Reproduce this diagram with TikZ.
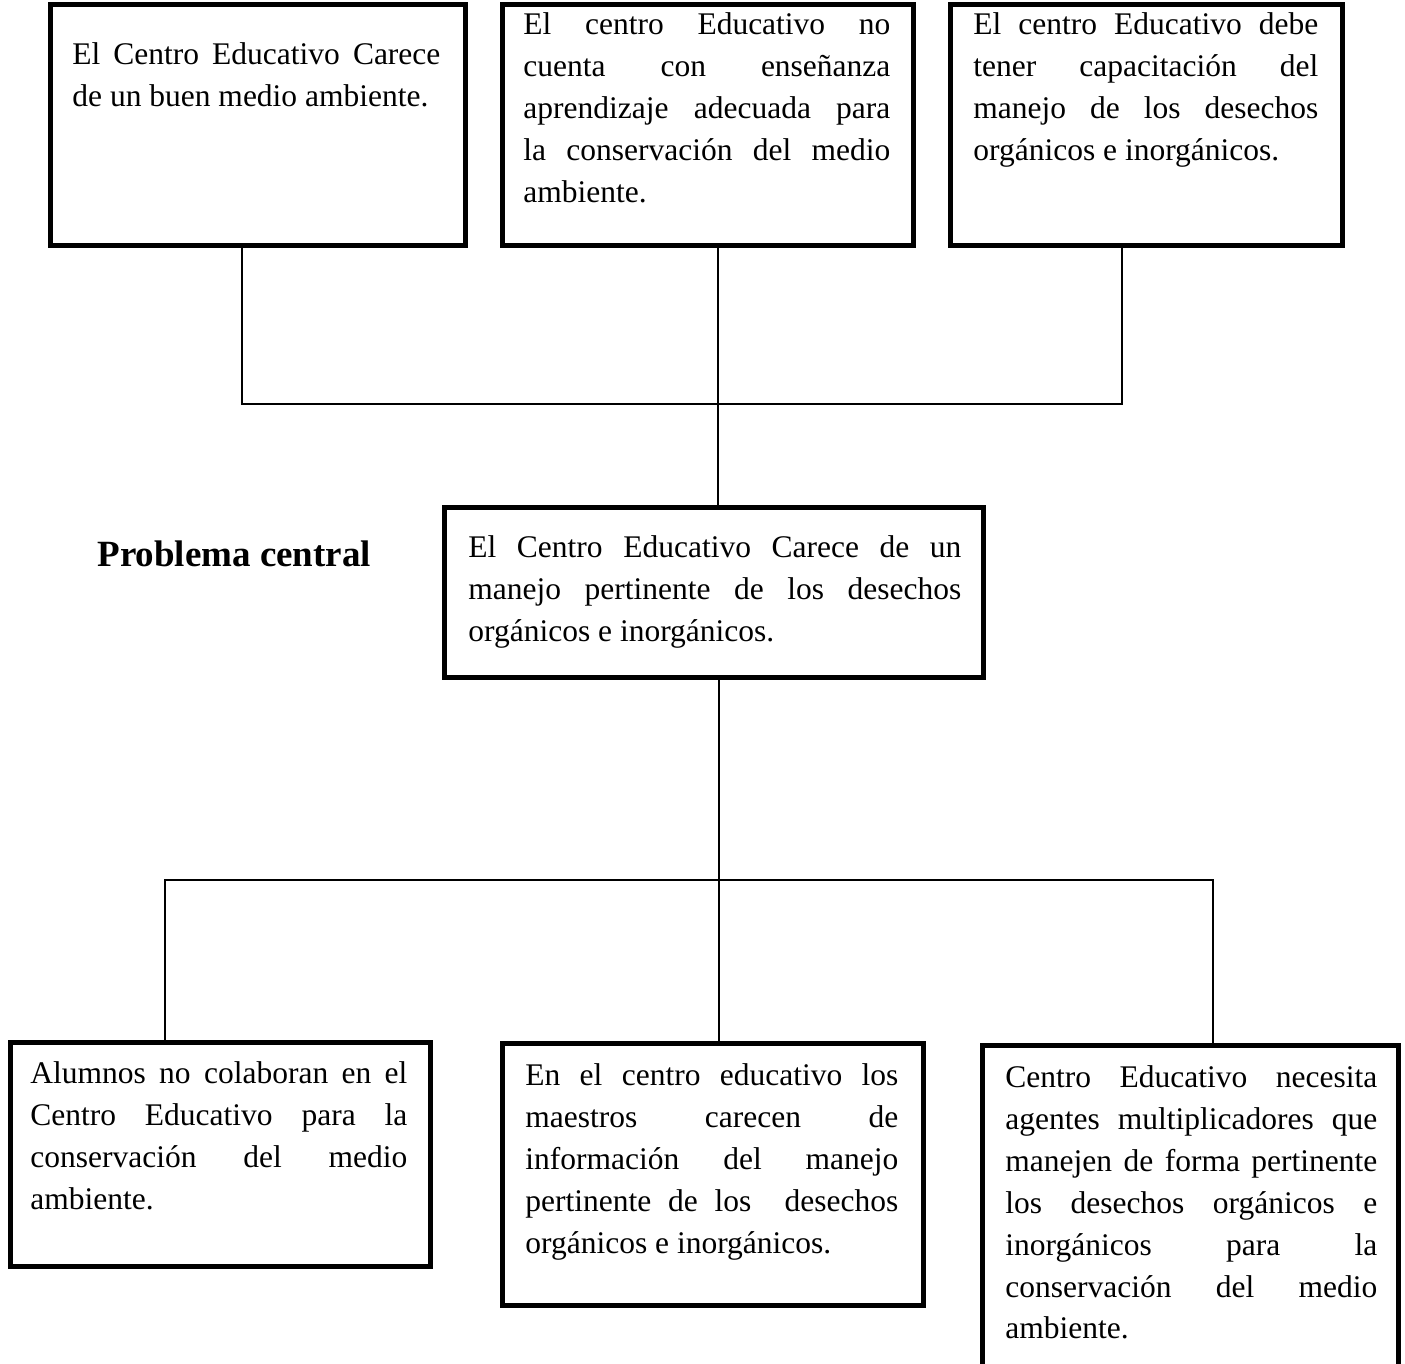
\documentclass[tikz,border=0pt]{standalone}
\usepackage{fontspec}
\setmainfont{Liberation Serif}
\usetikzlibrary{fit}
\hyphenpenalty=10000
\exhyphenpenalty=10000
\tolerance=9999
\definecolor{ink}{HTML}{000000}

\begin{document}
\begin{tikzpicture}[x=0.5pt,y=-0.5pt,
  marco/.style={draw=ink,line width=2.5pt,inner sep=0pt},
  linea/.style={draw=ink,line width=1pt},
  texto/.style={inner sep=0pt,anchor=base west,align=justify,
    font=\fontsize{15.75}{21}\selectfont}]
  \useasboundingbox (0,0) rectangle (1405,1364);
  \node[marco,fit={(50,5) (465,246)}] (efecto1) {};
  \node[marco,fit={(502,5) (913,246)}] (efecto2) {};
  \node[marco,fit={(950,5) (1342,246)}] (efecto3) {};
  \node[marco,fit={(444,508) (983,677)}] (problema) {};
  \node[marco,fit={(10,1042) (430,1266)}] (causa1) {};
  \node[marco,fit={(502,1043) (923,1305)}] (causa2) {};
  \node[marco,fit={(982,1045) (1398,1380)}] (causa3) {};
  \node[texto,text width=184pt] (tefecto1) at (72,65)
    {El Centro Educativo Carece \linebreak de un buen medio ambiente.};
  \node[texto,text width=183.5pt] (tefecto2) at (523,35)
    {El centro Educativo no \linebreak cuenta con enseñanza \linebreak aprendizaje adecuada para \linebreak la conservación del medio \linebreak ambiente.};
  \node[texto,text width=172.5pt] (tefecto3) at (973,35)
    {El centro Educativo debe \linebreak tener capacitación del \linebreak manejo de los desechos \linebreak orgánicos e inorgánicos.};
  \node[texto,text width=246.5pt] (tproblema) at (468,558)
    {El Centro Educativo Carece de un \linebreak manejo pertinente de los desechos \linebreak orgánicos e inorgánicos.};
  \node[texto,font=\fontsize{18.5}{22}\selectfont\bfseries] (titulo) at (97,567) {Problema central};
  \node[texto,text width=188.5pt] (tcausa1) at (30,1083)
    {Alumnos no colaboran en el \linebreak Centro Educativo para la \linebreak conservación del medio \linebreak ambiente.};
  \node[texto,text width=186.5pt] (tcausa2) at (525,1085)
    {En el centro educativo los \linebreak maestros carecen de \linebreak información del manejo \linebreak pertinente de los~ desechos \linebreak orgánicos e inorgánicos.};
  \node[texto,text width=186pt] (tcausa3) at (1005,1087)
    {Centro Educativo necesita \linebreak agentes multiplicadores que \linebreak manejen de forma pertinente \linebreak los desechos orgánicos e \linebreak inorgánicos para la \linebreak conservación del medio \linebreak ambiente.};
  \coordinate (ramaA) at (242,404);
  \coordinate (ramaB) at (718,404);
  \coordinate (ramaC) at (1122,404);
  \coordinate (ramaD) at (165,880);
  \coordinate (ramaE) at (719,880);
  \coordinate (ramaF) at (1213,880);
  \draw[linea] (ramaA |- efecto1.south) -- (ramaA) -- (ramaC) -- (ramaC |- efecto3.south);
  \draw[linea] (ramaB |- efecto2.south) -- (ramaB |- problema.north);
  \draw[linea] (ramaD |- causa1.north) -- (ramaD) -- (ramaF) -- (ramaF |- causa3.north);
  \draw[linea] (ramaE |- problema.south) -- (ramaE |- causa2.north);
\end{tikzpicture}
\end{document}
